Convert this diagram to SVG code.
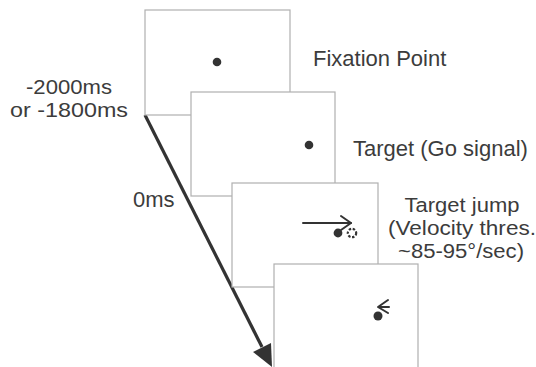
<svg xmlns="http://www.w3.org/2000/svg" width="536" height="367" viewBox="0 0 536 367">
<style>
.frame{fill:#fff;stroke:#b0b0b0;stroke-width:1.2}
.dot{fill:#333}
.lbl{font-family:"Liberation Sans",Arial,sans-serif;font-size:22px;fill:#3c3c3c}
.ml{font-size:20.5px}
.mark{fill:none;stroke:#333;stroke-width:2;stroke-linecap:round;stroke-linejoin:round}
.ghost{fill:none;stroke:#333;stroke-width:2.2;stroke-dasharray:2.4 1.6}
</style>
<rect width="536" height="367" fill="#fff"/>
<g id="connectors">
<line x1="145" y1="115" x2="262" y2="347" stroke="#333" stroke-width="3.2"/>
<polygon points="272,367 253,352 271,343" fill="#333"/>
</g>
<g id="frame-fixation">
<rect class="frame" x="145" y="10" width="145" height="105"/>
<circle class="dot" cx="217" cy="62" r="4.3"/>
</g>
<g id="frame-target">
<rect class="frame" x="191" y="92" width="144" height="104"/>
<circle class="dot" cx="309" cy="145" r="4.3"/>
</g>
<g id="frame-jump">
<rect class="frame" x="232" y="183" width="146" height="104"/>
<line class="mark" x1="303" y1="223" x2="351" y2="223"/>
<polyline class="mark" points="341,216 351,223 341,230"/>
<circle class="dot" cx="338" cy="233" r="4.4"/>
<circle class="ghost" cx="352" cy="233" r="4.2"/>
</g>
<g id="frame-return">
<rect class="frame" x="274" y="264" width="144" height="110"/>
<line class="mark" x1="389" y1="307" x2="379" y2="307"/>
<polyline class="mark" points="388,300 378,307 388,313"/>
<circle class="dot" cx="378" cy="316" r="4.5"/>
</g>
<g id="labels">
<text class="lbl ml" x="69" y="94" text-anchor="middle" textLength="86" lengthAdjust="spacingAndGlyphs">-2000ms</text>
<text class="lbl ml" x="69" y="117" text-anchor="middle" textLength="118" lengthAdjust="spacingAndGlyphs">or -1800ms</text>
<text class="lbl" x="133" y="207">0ms</text>
<text class="lbl" x="313" y="66">Fixation Point</text>
<text class="lbl" x="353" y="156">Target (Go signal)</text>
<text class="lbl ml" x="462" y="212" text-anchor="middle" textLength="115" lengthAdjust="spacingAndGlyphs">Target jump</text>
<text class="lbl ml" x="462" y="235" text-anchor="middle" textLength="148" lengthAdjust="spacingAndGlyphs">(Velocity thres.</text>
<text class="lbl ml" x="461" y="258" text-anchor="middle" textLength="126" lengthAdjust="spacingAndGlyphs">~85-95°/sec)</text>
</g>
</svg>
